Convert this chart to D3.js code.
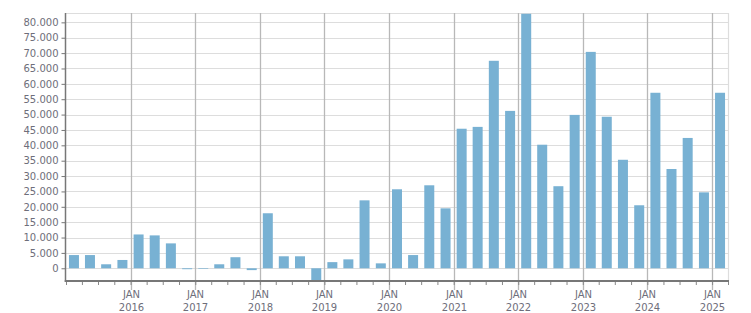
<!DOCTYPE html>
<html>
<head>
<meta charset="utf-8">
<script src="https://cdn.jsdelivr.net/npm/d3@7"></script>
<style>
  html, body { margin: 0; padding: 0; background: #ffffff; }
  svg { display: block; }
  text { font-family: "DejaVu Sans", Verdana, sans-serif; font-size: 10px; fill: #6e6e7a; }
</style>
</head>
<body>
<svg id="chart" width="751" height="313"></svg>
<script>
// ---- data ----
const quarters = [
  "2015-Q1","2015-Q2","2015-Q3","2015-Q4",
  "2016-Q1","2016-Q2","2016-Q3","2016-Q4",
  "2017-Q1","2017-Q2","2017-Q3","2017-Q4",
  "2018-Q1","2018-Q2","2018-Q3","2018-Q4",
  "2019-Q1","2019-Q2","2019-Q3","2019-Q4",
  "2020-Q1","2020-Q2","2020-Q3","2020-Q4",
  "2021-Q1","2021-Q2","2021-Q3","2021-Q4",
  "2022-Q1","2022-Q2","2022-Q3","2022-Q4",
  "2023-Q1","2023-Q2","2023-Q3","2023-Q4",
  "2024-Q1","2024-Q2","2024-Q3","2024-Q4",
  "2025-Q1"
];
const values = [
  4300, 4300, 1300, 2700,
  11000, 10700, 8100, -300,
  -200, 1300, 3600, -600,
  17900, 3900, 3900, -3900,
  2000, 2900, 22100, 1600,
  25700, 4300, 27000, 19500,
  45400, 46000, 67500, 51200,
  82800, 40200, 26700, 49900,
  70400, 49300, 35300, 20500,
  57100, 32300, 42400, 24700,
  57100
];
const yTicks = [0,5000,10000,15000,20000,25000,30000,35000,40000,45000,50000,55000,60000,65000,70000,75000,80000];
const yearLabels = ["2016","2017","2018","2019","2020","2021","2022","2023","2024","2025"];
const yDomain = [-4140, 83050];

// ---- layout ----
const pLeft = 65.5, pRight = 728, pTop = 13, pBottom = 281;
const svg = d3.select("#chart");

const parseQ = s => {
  const [yy, q] = s.split("-Q").map(Number);
  return new Date(yy, (q - 1) * 3, 1);
};
const nextQ = d => new Date(d.getFullYear(), d.getMonth() + 3, 1);

const startDate = parseQ(quarters[0]);
const endDate = nextQ(parseQ(quarters[quarters.length - 1]));

const x = d3.scaleTime().domain([startDate, endDate]).range([66, pRight]);
const y = d3.scaleLinear().domain(yDomain).range([pBottom, pTop]);

const loc = d3.formatLocale({decimal: ",", thousands: ".", grouping: [3], currency: ["", ""]});
const fmt = loc.format(",");

// horizontal grid
svg.append("g").selectAll("line").data(yTicks).join("line")
  .attr("x1", pLeft).attr("x2", pRight)
  .attr("y1", d => Math.round(y(d)) + 0.5).attr("y2", d => Math.round(y(d)) + 0.5)
  .attr("stroke", "#dddddd").attr("stroke-width", 1.2);
// top border and right border
svg.append("line").attr("x1", pLeft).attr("x2", pRight).attr("y1", pTop + 0.5).attr("y2", pTop + 0.5)
  .attr("stroke", "#dddddd").attr("stroke-width", 1.2);
svg.append("line").attr("x1", pRight + 0.5).attr("x2", pRight + 0.5).attr("y1", pTop).attr("y2", pBottom)
  .attr("stroke", "#dddddd").attr("stroke-width", 1.2);

// vertical year grid
const janDates = yearLabels.map(yl => new Date(+yl, 0, 1));
svg.append("g").selectAll("line").data(janDates).join("line")
  .attr("x1", d => Math.round(x(d)) + 0.5).attr("x2", d => Math.round(x(d)) + 0.5)
  .attr("y1", pTop).attr("y2", 290)
  .attr("stroke", "#b8b8b8").attr("stroke-width", 1.3);

// bars
const barW = 10;
svg.append("g").selectAll("rect").data(quarters.map((q, i) => ({q: parseQ(q), v: values[i]}))).join("rect")
  .attr("x", d => (x(d.q) + x(nextQ(d.q))) / 2 - barW / 2)
  .attr("width", barW)
  .attr("y", d => y(Math.max(0, d.v)))
  .attr("height", d => Math.abs(y(d.v) - y(0)))
  .attr("fill", "#78b1d3");

// y axis
const yAxis = d3.axisLeft(y).tickValues(yTicks).tickFormat(fmt).tickSize(4).tickPadding(3);
const gy = svg.append("g").attr("transform", `translate(${pLeft},0)`).call(yAxis);
gy.select(".domain").remove();
gy.selectAll(".tick line").attr("stroke", "#777777");
gy.selectAll(".tick text").attr("fill", "#6e6e7a").style("font-size", "10px").style("font-family", "DejaVu Sans");
svg.append("line").attr("x1", pLeft).attr("x2", pLeft).attr("y1", pTop).attr("y2", pBottom + 1)
  .attr("stroke", "#777777").attr("stroke-width", 1.5);

// x axis: minor quarter ticks
const qTicks = quarters.map(parseQ).concat([endDate]);
const xAxis = d3.axisBottom(x).tickValues(qTicks).tickSize(4).tickFormat("");
const gx = svg.append("g").attr("transform", `translate(0,${pBottom})`).call(xAxis);
gx.select(".domain").remove();
gx.selectAll(".tick line").attr("stroke", "#888888");
svg.append("line").attr("x1", pLeft - 0.75).attr("x2", pRight + 1).attr("y1", pBottom).attr("y2", pBottom)
  .attr("stroke", "#777777").attr("stroke-width", 2);

// year labels
const lab = svg.append("g").selectAll("g").data(janDates).join("g")
  .attr("transform", d => `translate(${Math.round(x(d)) + 0.5},0)`);
lab.append("text").attr("y", 298).attr("text-anchor", "middle").text("JAN");
lab.append("text").attr("y", 311).attr("text-anchor", "middle").text((d, i) => yearLabels[i]);
</script>
</body>
</html>
